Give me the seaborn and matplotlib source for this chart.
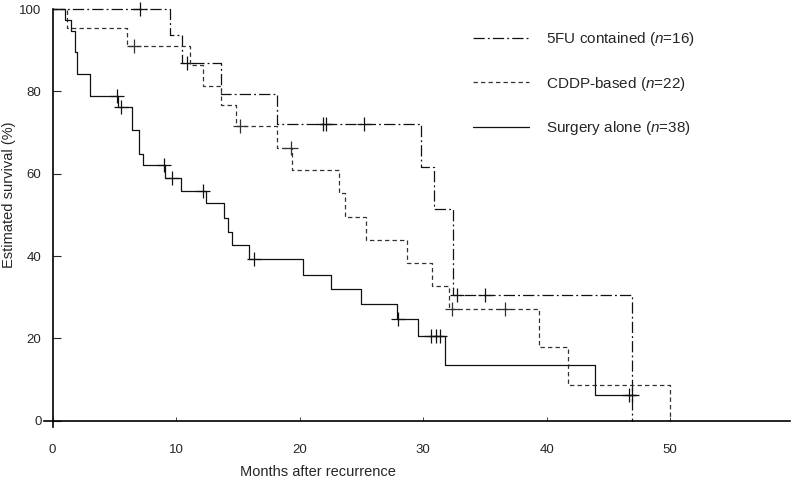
import pandas as pd
import matplotlib
matplotlib.use("Agg")
import matplotlib.pyplot as plt
import seaborn as sns

# Kaplan-Meier steps (months, % surviving after the step)
fu_t = [0, 9.5, 10.5, 13.6, 18.2, 29.8, 30.85, 32.4, 46.9]
fu_s = [100, 93.7, 86.8, 79.4, 72.1, 61.7, 51.4, 30.6, 0]
fu_cens_t = [7.1, 10.9, 21.9, 22.1, 25.2, 32.7, 35.0]
fu_cens_s = [100, 86.8, 72.1, 72.1, 72.1, 30.6, 30.6]

cddp_t = [0, 1.2, 6.0, 11.1, 12.2, 13.6, 14.85, 18.2, 19.4, 23.2, 23.7, 25.4,
          28.7, 30.7, 32.1, 39.4, 41.7, 50.0]
cddp_s = [100, 95.5, 91.0, 86.4, 81.4, 76.6, 71.6, 66.2, 60.9, 55.3, 49.6, 43.9,
          38.4, 32.8, 27.2, 18.0, 8.6, 0]
cddp_cens_t = [6.6, 15.2, 19.3, 32.3, 36.65]
cddp_cens_s = [91.0, 71.6, 66.2, 27.2, 27.2]

surg_t = [0, 1.0, 1.5, 1.8, 1.95, 3.0, 5.3, 6.4, 7.0, 7.3, 9.1, 10.4, 12.4, 13.9,
          14.2, 14.5, 15.9, 20.3, 22.5, 25.0, 27.9, 29.6, 31.8, 43.9, 47.2]
surg_s = [100, 97.4, 94.7, 89.5, 84.2, 78.9, 76.1, 70.6, 64.8, 62.0, 59.0, 55.8,
          52.9, 49.2, 45.9, 42.6, 39.2, 35.5, 32.0, 28.3, 24.7, 20.5, 13.5, 6.3, 6.3]
surg_cens_t = [5.2, 5.5, 9.0, 9.7, 12.2, 16.3, 28.0, 30.6, 31.0, 31.4, 46.7, 46.9]
surg_cens_s = [78.9, 76.1, 62.0, 59.0, 55.8, 39.2, 24.7, 20.5, 20.5, 20.5, 6.3, 6.3]

labels = ["5FU contained ($n$=16)", "CDDP-based ($n$=22)", "Surgery alone ($n$=38)"]
x_ticks = [0, 10, 20, 30, 40, 50]
y_ticks = [0, 20, 40, 60, 80, 100]

sns.set_style("ticks")
plt.rcParams["font.family"] = ["Liberation Sans", "DejaVu Sans"]
plt.rcParams["mathtext.fontset"] = "custom"
plt.rcParams["mathtext.it"] = "Liberation Sans:italic"
plt.rcParams["mathtext.rm"] = "Liberation Sans"

fig = plt.figure(figsize=(7.92, 4.84), dpi=100)
ax = fig.add_axes([44 / 792, 1 - 427 / 484, 746 / 792, 418 / 484])

groups = [
    (fu_t, fu_s, fu_cens_t, fu_cens_s, (0, (9, 2.5, 1.5, 2.5)), "#111111"),
    (cddp_t, cddp_s, cddp_cens_t, cddp_cens_s, (0, (3.5, 2.5)), "#333333"),
    (surg_t, surg_s, surg_cens_t, surg_cens_s, "-", "#111111"),
]

for (t, s, ct, cs, ls, col), lab in zip(groups, labels):
    df = pd.DataFrame({"month": t, "surv": s})
    sns.lineplot(data=df, x="month", y="surv", ax=ax, estimator=None, sort=False,
                 drawstyle="steps-post", color=col, linestyle=ls, linewidth=0.9,
                 label=lab, clip_on=False)
    cdf = pd.DataFrame({"month": ct, "surv": cs})
    sns.scatterplot(data=cdf, x="month", y="surv", ax=ax, marker="+", s=110,
                    color=col, linewidth=0.9, clip_on=False, legend=False)

ax.set_xlim(-0.7, 59.7)
ax.set_ylim(-1.5, 100)
ax.spines["left"].set_position(("data", 0))
ax.spines["bottom"].set_position(("data", 0))
ax.spines["right"].set_visible(False)
ax.spines["top"].set_visible(False)
for sp in ["left", "bottom"]:
    ax.spines[sp].set_linewidth(1.2)
    ax.spines[sp].set_color("black")

ax.set_xticks(x_ticks)
ax.set_yticks(y_ticks)
ax.tick_params(axis="x", direction="in", length=3, width=0.6, labelsize=9.5, pad=17)
ax.tick_params(axis="y", direction="in", length=6, width=0.8, labelsize=9.5, pad=8)

ax.set_xlabel("Months after recurrence", fontsize=10.5)
ax.set_ylabel("Estimated survival (%)", fontsize=10.5)
ax.xaxis.set_label_coords(0.367, -0.09)
ax.yaxis.set_label_coords(-0.0375, 0.556)

ax.legend(loc="upper left", bbox_to_anchor=(0.575, 0.950), frameon=False,
          fontsize=11, handlelength=3.7, handletextpad=1.1, labelspacing=1.75,
          borderpad=0, borderaxespad=0)

plt.savefig("out.png", dpi=100)
